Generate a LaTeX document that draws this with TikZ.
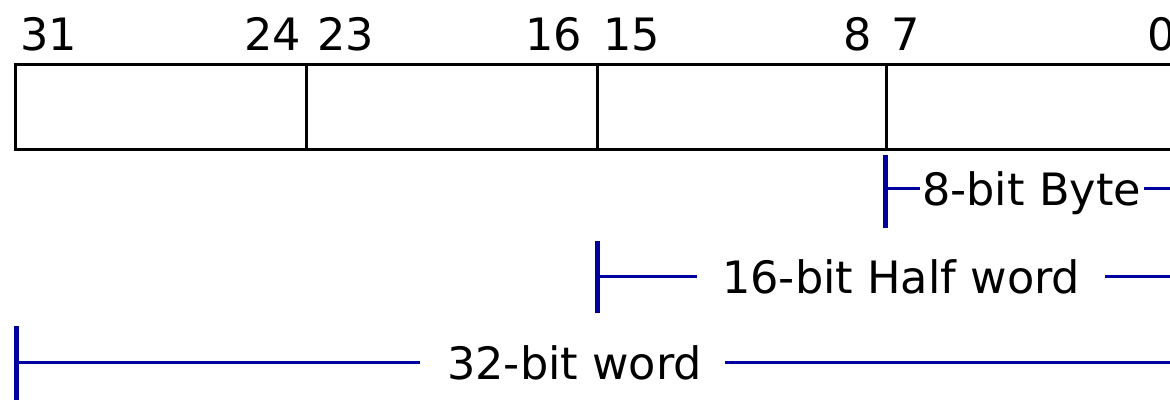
\documentclass[tikz,border=0pt]{standalone}
\usepackage{fontspec}
\setmainfont{DejaVu Sans}
\definecolor{dimblue}{RGB}{0,0,160}
\begin{document}
\begin{tikzpicture}[x=1pt,y=-1pt,
  cell/.style={draw=black,line width=3.2pt,minimum height=85pt,inner sep=0pt,anchor=north west},
  num/.style={font=\fontsize{44.6}{50}\selectfont,inner sep=0pt,text=black},
  lbl/.style={font=\fontsize{44.6}{50}\selectfont,inner sep=0pt,anchor=base west,text=black},
  tick/.style={draw=dimblue,line width=5pt},
  dim/.style={draw=dimblue,line width=3pt}]
\useasboundingbox (0,0) rectangle (1170,399);
\clip (0,0) rectangle (1170,399);
% cells
\node[cell,minimum width=291pt] (c3) at (14,63) {};
\node[cell,minimum width=291pt] (c2) at (305,63) {};
\node[cell,minimum width=289pt] (c1) at (596,63) {};
\node[cell,minimum width=290pt] (c0) at (885,63) {};
% bit numbers
\node[num,anchor=base west] (n31) at (20,50) {31};
\node[num,anchor=base east] (n24) at (301,50) {24};
\node[num,anchor=base west] (n23) at (317,50) {23};
\node[num,anchor=base east] (n16) at (582,50) {16};
\node[num,anchor=base west] (n15) at (603,50) {15};
\node[num,anchor=base east] (n8) at (872,50) {8};
\node[num,anchor=base west] (n7) at (891,50) {7};
\node[num,anchor=base west] (n0) at (1147,50) {0};
% 8-bit byte
\coordinate (b8t) at (885,155);
\coordinate (b8b) at (885,228);
\coordinate (b8l) at (885,188);
\coordinate (b8r) at (1200,188);
\node[lbl] (l8) at (922,205) {8-bit Byte};
\draw[tick] (b8t) -- (b8b);
\draw[dim] (b8l) -- ([xshift=-2pt]l8.west |- b8l);
\draw[dim] ([xshift=3pt]l8.east |- b8r) -- (b8r);
% 16-bit half word
\coordinate (b16t) at (597,241);
\coordinate (b16b) at (597,313);
\coordinate (b16l) at (597,276);
\coordinate (b16r) at (1200,276);
\node[lbl] (l16) at (722,293) {16-bit Half word};
\draw[tick] (b16t) -- (b16b);
\draw[dim] (b16l) -- ([xshift=-25pt]l16.west |- b16l);
\draw[dim] ([xshift=25pt]l16.east |- b16r) -- (b16r);
% 32-bit word
\coordinate (b32t) at (16,326);
\coordinate (b32b) at (16,420);
\coordinate (b32l) at (16,362);
\coordinate (b32r) at (1200,362);
\node[lbl] (l32) at (447,379) {32-bit word};
\draw[tick] (b32t) -- (b32b);
\draw[dim] (b32l) -- ([xshift=-27pt]l32.west |- b32l);
\draw[dim] ([xshift=23pt]l32.east |- b32r) -- (b32r);
\end{tikzpicture}
\end{document}
